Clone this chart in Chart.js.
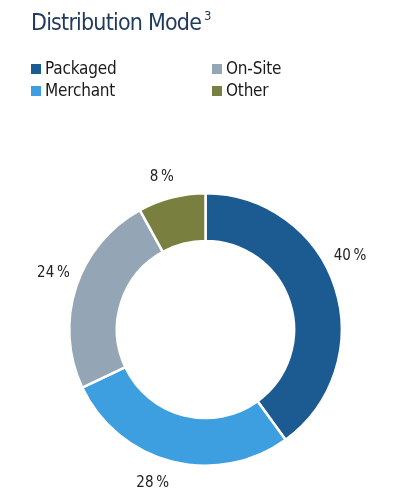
<!DOCTYPE html>
<html>
<head>
<meta charset="utf-8">
<script src="https://cdn.jsdelivr.net/npm/chart.js@4"></script>
<style>
  html, body { margin: 0; padding: 0; background: #fff; }
  body { width: 395px; height: 502px; position: relative; overflow: hidden; font-family: "DejaVu Sans Condensed", "Noto Sans", sans-serif; }
  #title { position: absolute; left: 31px; top: 9px; font-size: 23px; letter-spacing: -0.8px; color: #1f3a5c; white-space: nowrap; }
  #title sup { font-size: 13px; position: relative; top: -1px; margin-left: 3px; }
  #legend { position: absolute; left: 31px; top: 58px; width: 360px; }
  .item { position: absolute; font-size: 17px; color: #1a1a1a; white-space: nowrap; line-height: 20px; letter-spacing: -0.2px; }
  .sw { display: inline-block; width: 10px; height: 10px; margin-right: 4px; vertical-align: 0px; }
  #wrap { position: absolute; left: 0; top: 0; width: 395px; height: 502px; }
</style>
</head>
<body>
<div id="wrap"><canvas id="c" width="395" height="502"></canvas></div>
<div id="title">Distribution Mode<sup>3</sup></div>
<div id="legend"></div>
<script>
const categories = ["Packaged", "Merchant", "On-Site", "Other"];
const shares = [40, 28, 24, 8];
const percentLabels = ["40\u2009%", "28\u2009%", "24\u2009%", "8\u2009%"];
const colors = ["#1c5a92", "#3d9fe0", "#94a6b6", "#79803f"];
const legendOrder = [0, 2, 1, 3]; // grid: row-major Packaged, On-Site / Merchant, Other

const legend = document.getElementById('legend');
legendOrder.forEach((idx, k) => {
  const row = Math.floor(k / 2), col = k % 2;
  const d = document.createElement('div');
  d.className = 'item';
  d.style.left = (col * 181) + 'px';
  d.style.top = (row * 22) + 'px';
  d.innerHTML = '<span class="sw" style="background:' + colors[idx] + '"></span>' + categories[idx];
  legend.appendChild(d);
});

const labelPlugin = {
  id: 'outerLabels',
  afterDatasetsDraw(chart, args, opts) {
    const ctx = chart.ctx;
    const meta = chart.getDatasetMeta(0);
    const nudges = opts.angleNudgeDeg || [];
    const gaps = opts.gaps || [];
    ctx.save();
    ctx.font = '15px "DejaVu Sans Condensed", "Noto Sans", sans-serif';
    ctx.fillStyle = '#222';
    ctx.textAlign = 'center';
    ctx.textBaseline = 'middle';
    meta.data.forEach((arc, i) => {
      const p = arc.getProps(['x', 'y', 'startAngle', 'endAngle', 'outerRadius'], true);
      const mid = (p.startAngle + p.endAngle) / 2 + (nudges[i] || 0) * Math.PI / 180;
      const r = p.outerRadius + (gaps[i] !== undefined ? gaps[i] : opts.gap);
      ctx.fillText(percentLabels[i], p.x + Math.cos(mid) * r, p.y + Math.sin(mid) * r);
    });
    ctx.restore();
  }
};

new Chart(document.getElementById('c'), {
  type: 'doughnut',
  data: {
    labels: categories,
    datasets: [{
      data: shares,
      backgroundColor: colors,
      borderColor: '#ffffff',
      borderWidth: 2.5
    }]
  },
  options: {
    responsive: false,
    animation: false,
    cutout: '65%',
    layout: { padding: { left: 68, right: 52, top: 192, bottom: 35 } },
    plugins: {
      legend: { display: false },
      tooltip: { enabled: false },
      outerLabels: { gap: 26, gaps: [26, 26, 26, 22], angleNudgeDeg: [-9, 4.6, 2.4, -1.6] }
    }
  },
  plugins: [labelPlugin]
});
</script>
</body>
</html>
